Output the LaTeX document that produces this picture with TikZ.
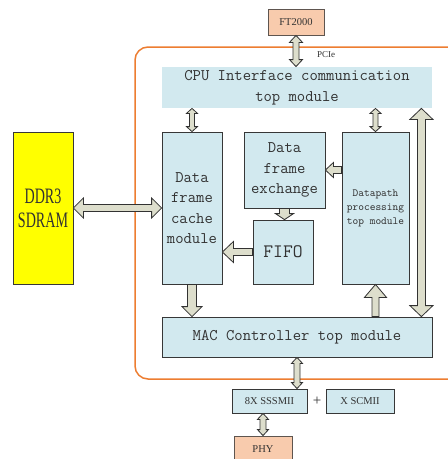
\documentclass[tikz,border=0pt]{standalone}
\usepackage{fontspec}
\usetikzlibrary{calc}
\setmainfont{Liberation Serif}
\newfontfamily\ddrf[FakeStretch=0.64]{Liberation Serif}
\definecolor{bluefill}{RGB}{210,233,239}
\definecolor{boxline}{RGB}{55,55,55}
\definecolor{txt}{RGB}{50,50,50}
\definecolor{ddryellow}{RGB}{255,255,0}
\definecolor{peach}{RGB}{248,203,173}
\definecolor{arrfill}{RGB}{221,222,204}
\definecolor{arrline}{RGB}{50,50,50}
\definecolor{orangec}{RGB}{237,125,49}
\tikzset{
  box/.style={draw=boxline, line width=0.8pt, fill=bluefill, inner sep=0pt, align=center, text=txt},
  bigmono/.style={font=\ttfamily\fontsize{16.2}{20.5}\selectfont},
  smallser/.style={font=\fontsize{10.5}{12}\selectfont, text=txt},
  blk/.style={draw=arrline, fill=arrfill, line width=0.8pt, line join=miter},
}
% #1 from, #2 to, #3 shaft half width, #4 head half width, #5 head length
\newcommand\dblarrow[5]{%
  \filldraw[blk] let \p1=#1, \p2=#2, \n1={atan2(\y2-\y1,\x2-\x1)}, \n2={veclen(\x2-\x1,\y2-\y1)} in
   [shift={(\p1)}, rotate=\n1]
   (0pt,0pt) -- (#5pt,#4pt) -- (#5pt,#3pt) -- ({\n2-#5pt},#3pt) -- ({\n2-#5pt},#4pt) -- ({\n2},0pt)
   -- ({\n2-#5pt},-#4pt) -- ({\n2-#5pt},-#3pt) -- (#5pt,-#3pt) -- (#5pt,-#4pt) -- cycle;}
\newcommand\sglarrow[5]{%
  \filldraw[blk] let \p1=#1, \p2=#2, \n1={atan2(\y2-\y1,\x2-\x1)}, \n2={veclen(\x2-\x1,\y2-\y1)} in
   [shift={(\p1)}, rotate=\n1]
   (0pt,#3pt) -- ({\n2-#5pt},#3pt) -- ({\n2-#5pt},#4pt) -- ({\n2},0pt)
   -- ({\n2-#5pt},-#4pt) -- ({\n2-#5pt},-#3pt) -- (0pt,-#3pt) -- cycle;}
\begin{document}
\begin{tikzpicture}[x=1pt,y=-1pt]
\clip (0,0) rectangle (448,459);
\fill[white] (0,0) rectangle (448,459);
% FPGA frame
\draw[orangec, line width=1.5pt, rounded corners=13pt] (135,47) rectangle (475,379);

\node[box, draw=boxline!80!peach, fill=peach, minimum width=56pt, minimum height=26pt, smallser] (ft) at (296,22) {FT2000};
\node[box, draw=none, minimum width=270pt, minimum height=41pt, bigmono] (cpu) at (297,87.5) {CPU Interface communication\\top module};
\node[box, fill=ddryellow, minimum width=60pt, minimum height=152pt, font=\ddrf\fontsize{22}{24}\selectfont] (ddr) at (43,208) {DDR3\\SDRAM};
\node[box, minimum width=60pt, minimum height=152pt, bigmono] (cache) at (192,208) {Data\\frame\\cache\\module};
\node[box, minimum width=81pt, minimum height=76pt, bigmono] (exch) at (284.5,170) {Data\\frame\\exchange};
\node[box, minimum width=60pt, minimum height=64pt, font=\ttfamily\fontsize{19}{22}\selectfont] (fifo) at (283,252) {FIFO};
\node[box, minimum width=67pt, minimum height=152pt, font=\ttfamily\fontsize{10.9}{14}\selectfont] (dp) at (375.5,208) {Datapath\\processing\\top module};
\node[box, minimum width=270pt, minimum height=40pt, bigmono] (mac) at (297,337) {MAC Controller top module};
\node[box, minimum width=75pt, minimum height=24pt, smallser] (sss) at (269.5,401) {8X SSSMII};
\node[box, minimum width=68pt, minimum height=24pt, smallser] (scm) at (360,401) {X SCMII};
\node[smallser, font=\fontsize{15}{15}\selectfont] (plus) at (317,401) {+};
\node[box, draw=boxline!80!peach, fill=peach, minimum width=58pt, minimum height=26pt, smallser] (phy) at (263,449) {PHY};
\node[smallser, font=\fontsize{9}{10}\selectfont] (pcie) at (326,55) {PCIe};

\coordinate (rtop) at ($(cpu.south east)+(-11,0)$);
\coordinate (rbot) at ($(mac.north east)+(-11,0)$);

% connectors
\dblarrow{(ft.south)}{(ft.south |- cpu.north)}{3}{6.5}{7}
\dblarrow{(cache.north |- cpu.south)}{(cache.north)}{2.5}{5.5}{5}
\dblarrow{(dp.north |- cpu.south)}{(dp.north)}{2.5}{5.5}{5}
\dblarrow{(rtop)}{(rbot)}{4}{11.5}{11}
\dblarrow{(ddr.east)}{(cache.west)}{3.5}{10}{10}
\sglarrow{(dp.west |- exch.east)}{(exch.east)}{3.5}{7.5}{8}
\sglarrow{(exch.south)}{(exch.south |- fifo.north)}{5}{9}{6}
\sglarrow{(fifo.west)}{(fifo.west -| cache.east)}{3.5}{10.5}{11}
\sglarrow{(cache.south)}{(cache.south |- mac.north)}{4.5}{10}{10}
\sglarrow{(dp.south |- mac.north)}{(dp.south)}{3.5}{11}{13}
\dblarrow{(mac.south)}{(mac.south |- sss.north)}{3}{5.5}{6}
\dblarrow{(phy.north |- sss.south)}{(phy.north)}{3}{5.5}{6}
\end{tikzpicture}
\end{document}
